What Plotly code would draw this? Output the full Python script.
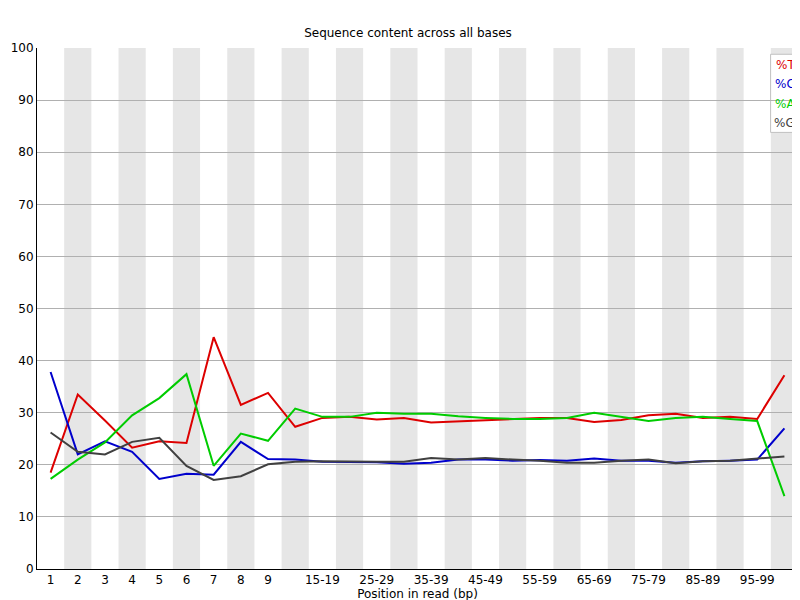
import plotly.graph_objects as go

categories = ["1","2","3","4","5","6","7","8","9","10-14","15-19","20-24","25-29","30-34","35-39",
              "40-44","45-49","50-54","55-59","60-64","65-69","70-74","75-79","80-84","85-89",
              "90-94","95-99","100-101"]
pct_T = [18.5,33.5,28.5,23.3,24.5,24.2,44.5,31.5,33.8,27.3,29,29.2,28.7,29,28.1,28.3,28.5,28.8,29,29,28.2,28.6,29.5,29.8,29,29.2,28.8,37.2]
pct_C = [37.8,22,24.5,22.5,17.3,18.3,18.1,24.4,21.1,21,20.6,20.6,20.5,20.2,20.4,21,21,20.8,20.9,20.8,21.2,20.8,20.8,20.4,20.7,20.8,21,27]
pct_A = [17.3,21,24.3,29.5,32.8,37.4,19.8,26,24.6,30.8,29.2,29.2,30,29.8,29.8,29.3,29,28.8,28.8,29,30,29.2,28.4,29,29.2,28.8,28.4,14]
pct_G = [26.2,22.5,22,24.4,25.2,19.8,17.1,17.8,20.1,20.6,20.7,20.6,20.6,20.6,21.3,21,21.3,21,20.8,20.4,20.4,20.8,21,20.3,20.7,20.8,21.2,21.6]
series = [("%T", pct_T, "#dd0000"), ("%C", pct_C, "#0000cc"), ("%A", pct_A, "#00cc00"), ("%G", pct_G, "#404040")]

xs = list(range(1, len(categories) + 1))
tickvals = [x for x in xs if x <= 9 or (x >= 11 and x % 2 == 1)]
ticktext = [categories[x - 1] for x in tickvals]

fig = go.Figure()
shapes = []
for x in xs:
    if x % 2 == 0:
        shapes.append(dict(type="rect", xref="x", yref="paper", x0=x - 0.5, x1=x + 0.5, y0=0, y1=1,
                           fillcolor="#e6e6e6", line_width=0, layer="below"))
for name, vals, col in series:
    fig.add_trace(go.Scatter(x=xs, y=vals, mode="lines", name=name, line=dict(color=col, width=2)))

ann = []
for i, (name, vals, col) in enumerate(series):
    ann.append(dict(xref="paper", yref="paper", x=0.999, y=0.985 - i * 0.0375, text=name, showarrow=False,
                    xanchor="right", yanchor="top", font=dict(color=col, size=12)))
shapes.append(dict(type="rect", xref="paper", yref="paper", x0=0.964, x1=1.0, y0=0.838, y1=0.988,
                   fillcolor="white", line=dict(color="#c0c0c0", width=1), layer="below"))

fig.update_layout(
    width=800, height=600, plot_bgcolor="white", paper_bgcolor="white",
    margin=dict(l=29, r=10, t=40, b=39, autoexpand=False),
    font=dict(family="DejaVu Sans", size=12, color="black"),
    title=dict(text="Sequence content across all bases", x=0.5, xanchor="center", y=0.965, font=dict(size=12)),
    showlegend=False, shapes=shapes, annotations=ann,
    xaxis=dict(range=[0.5, 28.5], tickvals=tickvals, ticktext=ticktext, showgrid=False, automargin=False,
               showline=True, linecolor="black", ticks="", tickfont=dict(size=12),
               title=dict(text="Position in read (bp)", standoff=2, font=dict(size=12))),
    yaxis=dict(range=[0, 100], dtick=10, showgrid=True, gridcolor="#b0b0b0", showline=True, automargin=False,
               linecolor="black", ticks="", zeroline=False, tickfont=dict(size=12)),
)
fig.write_html("out.html")
